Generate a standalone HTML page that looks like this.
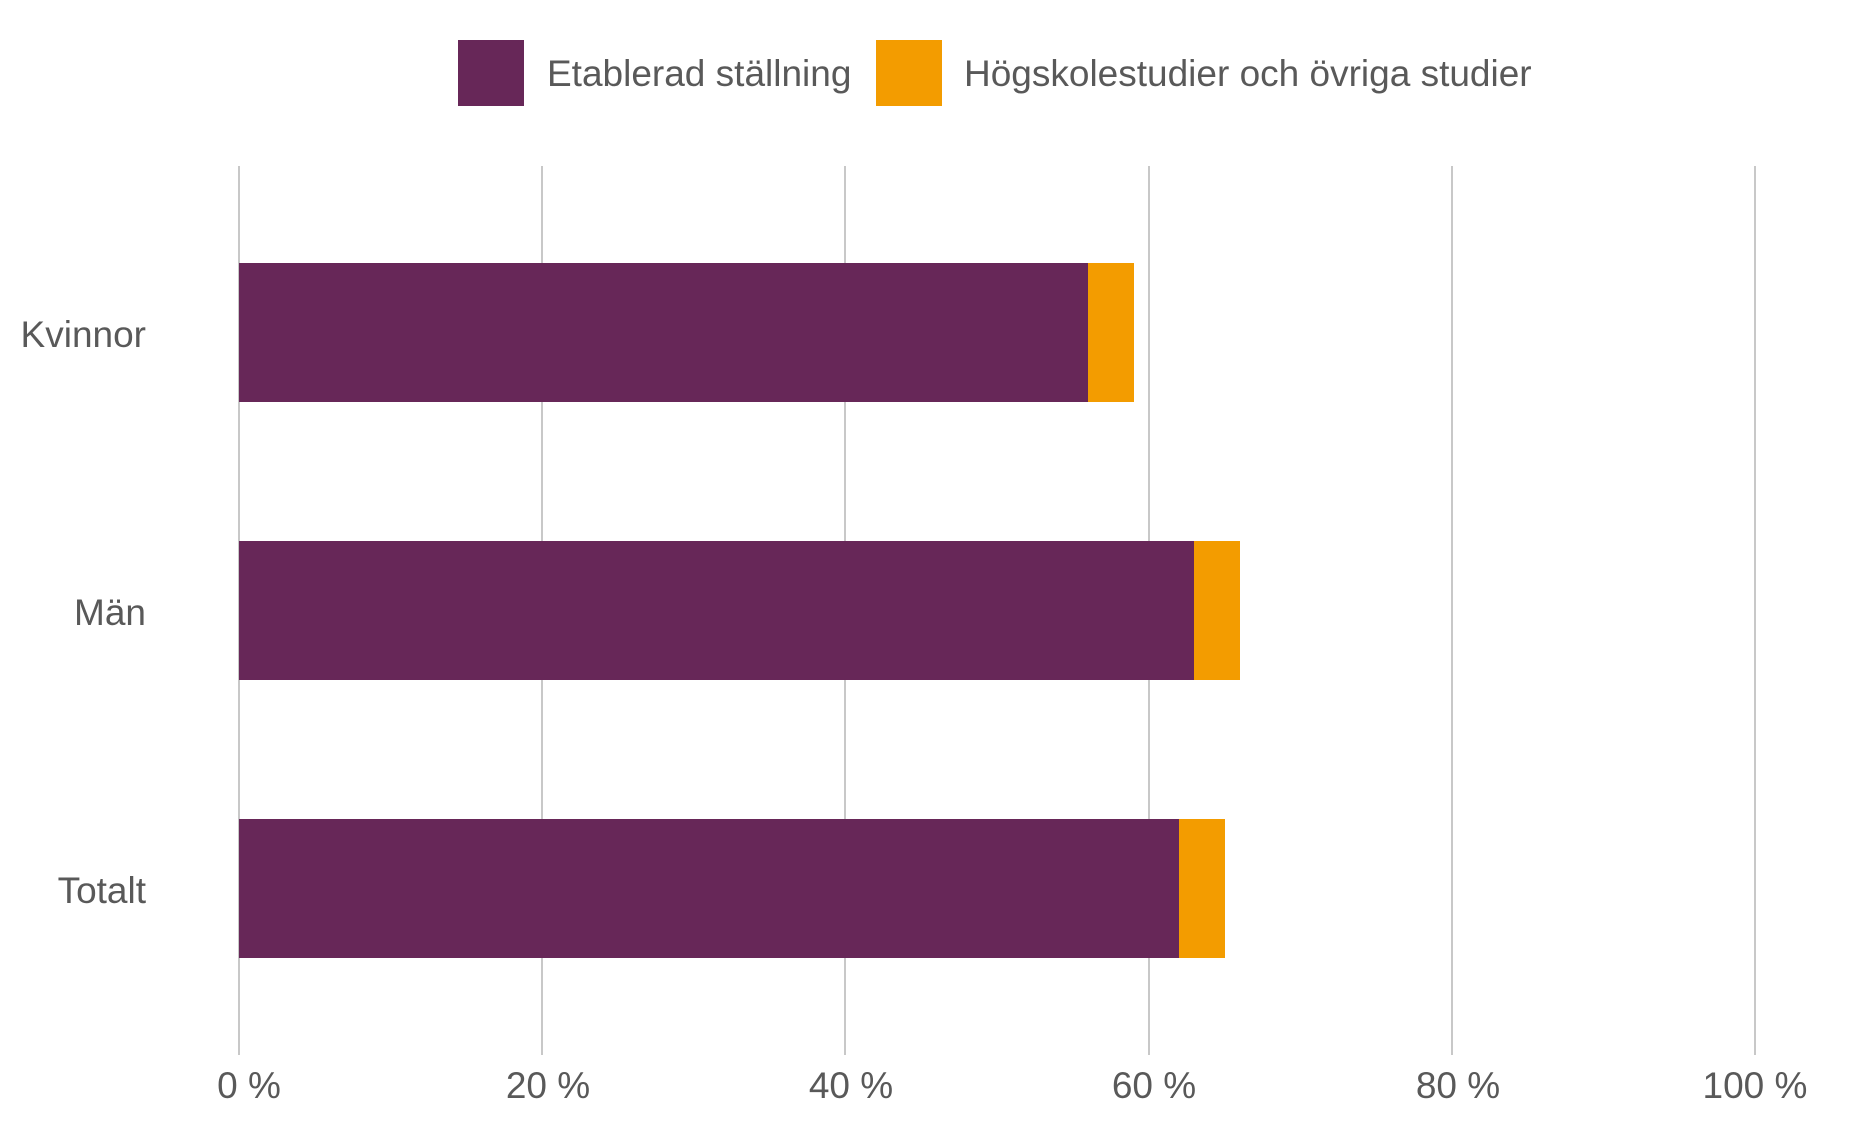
<!DOCTYPE html>
<html><head><style>
body{margin:0;width:1850px;height:1125px;background:#fff;overflow:hidden}
</style></head><body>
<svg width="1850" height="1125" xmlns="http://www.w3.org/2000/svg" font-family="Liberation Sans, Arial, sans-serif" fill="#595959">
<g stroke="#c8c8c8" stroke-width="2">
<line x1="239" y1="166" x2="239" y2="1055"/>
<line x1="542" y1="166" x2="542" y2="1055"/>
<line x1="845" y1="166" x2="845" y2="1055"/>
<line x1="1149" y1="166" x2="1149" y2="1055"/>
<line x1="1452" y1="166" x2="1452" y2="1055"/>
<line x1="1755" y1="166" x2="1755" y2="1055"/>
</g>
<rect x="239" y="263" width="849" height="139" fill="#672758"/>
<rect x="1088" y="263" width="46" height="139" fill="#f39c00"/>
<rect x="239" y="541" width="955" height="139" fill="#672758"/>
<rect x="1194" y="541" width="46" height="139" fill="#f39c00"/>
<rect x="239" y="819" width="940" height="139" fill="#672758"/>
<rect x="1179" y="819" width="46" height="139" fill="#f39c00"/>
<g font-size="37" text-anchor="end">
<text x="146" y="347">Kvinnor</text>
<text x="146" y="625">Män</text>
<text x="146" y="903">Totalt</text>
</g>
<g font-size="37" text-anchor="middle">
<text x="249" y="1098">0 %</text>
<text x="548" y="1098">20 %</text>
<text x="851" y="1098">40 %</text>
<text x="1154" y="1098">60 %</text>
<text x="1458" y="1098">80 %</text>
<text x="1755" y="1098">100 %</text>
</g>
<rect x="458" y="40" width="66" height="66" fill="#672758"/>
<rect x="876" y="40" width="66" height="66" fill="#f39c00"/>
<g font-size="37">
<text x="547" y="86">Etablerad ställning</text>
<text x="964" y="86">Högskolestudier och övriga studier</text>
</g>
</svg>
</body></html>
